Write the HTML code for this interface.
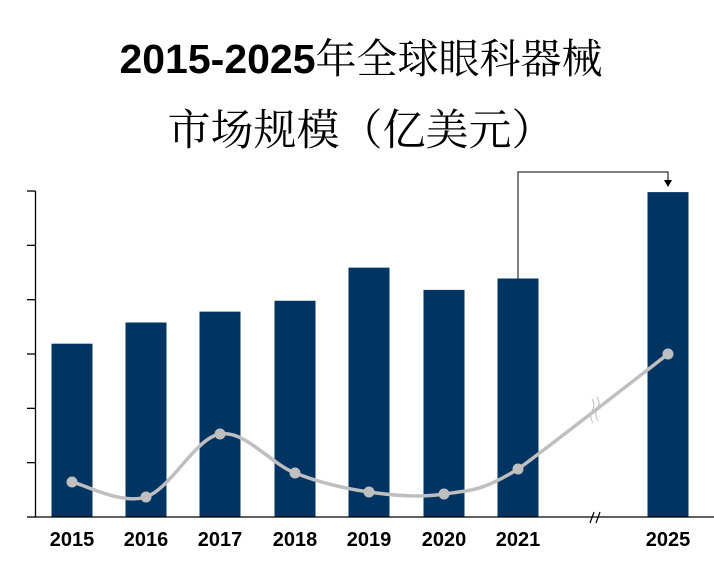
<!DOCTYPE html>
<html><head><meta charset="utf-8"><style>
html,body{margin:0;padding:0;background:#fff;}
#wrap{position:relative;width:714px;height:571px;overflow:hidden;}
.t{position:absolute;left:0;width:714px;text-align:center;font-size:41px;color:#000;white-space:nowrap;}
.t b{font-family:"Liberation Sans",sans-serif;font-weight:bold;}
.t span{font-family:"Noto Serif CJK SC","Noto Sans CJK SC",serif;font-weight:normal;}
</style></head><body>
<div id="wrap">
<div class="t" style="top:26px;left:4px;"><b>2015-2025</b><span>年全球眼科器械</span></div>
<div class="t" style="top:97px;font-size:43px;left:4px;"><span>市场规模（亿美元）</span></div>
<svg id="svg" width="714" height="571" style="position:absolute;left:0;top:0"></svg>
</div>
<script>
const categories=["2015","2016","2017","2018","2019","2020","2021","2025"];
const marketSize=[3.19,3.58,3.78,3.98,4.59,4.18,4.39,5.98];
const growthRate=[3.5,2.0,8.3,4.4,2.5,2.3,4.8,16.3];
const yTicks=[0,1,2,3,4,5,6];
const centers=[72,146,220,295,369,444,518,668];
const NS="http://www.w3.org/2000/svg";
const svg=document.getElementById('svg');
const y0=517,unit=54.33;
function yScale(v){return y0-v*unit;}
function gScale(v){return y0-v*10;}
function xScale(i){return centers[i];}
function mk(tag,attrs){const e=document.createElementNS(NS,tag);for(const k in attrs)e.setAttribute(k,attrs[k]);svg.appendChild(e);return e;}
categories.forEach((c,i)=>{
 const r=mk('rect',{x:xScale(i)-20.5,y:yScale(marketSize[i]),width:41,height:y0-yScale(marketSize[i]),fill:'#003462'});
 
 
 const t=mk('text',{x:xScale(i),y:546,'text-anchor':'middle','font-family':'Liberation Sans, sans-serif','font-weight':'bold','font-size':'20',fill:'#000'});
 t.textContent=c;
 
 
});
const ya=mk('line',{x1:35.5,y1:yScale(6),x2:35.5,y2:y0,stroke:'#000','stroke-width':1.3});


yTicks.forEach(v=>{
 const l=mk('line',{x1:27,x2:35.5,y1:yScale(v),y2:yScale(v),stroke:'#000','stroke-width':1.3});
 
 
});
const xa=mk('line',{x1:35,y1:y0,x2:714,y2:y0,stroke:'#000','stroke-width':1.3});


const xb=mk('path',{d:'M590 523 L594 512 M596 523 L600 512',stroke:'#000','stroke-width':1.2,fill:'none'});


const pts=categories.map((c,i)=>[xScale(i),gScale(growthRate[i])]);
let d='M'+pts[0][0]+' '+pts[0][1];
for(let i=0;i<pts.length-1;i++){
 const p0=pts[Math.max(0,i-1)],p1=pts[i],p2=pts[i+1],p3=pts[Math.min(pts.length-1,i+2)];
 const k=i>=pts.length-2?0.05:1/6;
 const c1=[p1[0]+(p2[0]-p0[0])*k,p1[1]+(p2[1]-p0[1])*k];
 const c2=[p2[0]-(p3[0]-p1[0])*k,p2[1]-(p3[1]-p1[1])*k];
 d+=` C${c1[0]} ${c1[1]} ${c2[0]} ${c2[1]} ${p2[0]} ${p2[1]}`;
}
const gl=mk('path',{d:d,stroke:'#bfbfbf','stroke-width':3.5,fill:'none'});


pts.forEach((p,i)=>{
 const c=mk('circle',{cx:p[0],cy:p[1],r:5.5,fill:'#bfbfbf'});
 
 
});
const lb=mk('path',{d:'M592 399 Q596 405 592 411 Q589 417 593 423 M597 397 Q601 403 597 409 Q594 415 598 421',stroke:'#bfbfbf','stroke-width':1,fill:'none'});


const ax=xScale(6),bx=xScale(7);
const ar=mk('path',{d:`M${ax} ${yScale(marketSize[6])} L${ax} 172 L${bx} 172 L${bx} 181`,stroke:'#000','stroke-width':1,fill:'none'});


const ah=mk('path',{d:`M${bx-4} 180 L${bx+4} 180 L${bx} 187 Z`,fill:'#000'});


</script>
</body></html>
